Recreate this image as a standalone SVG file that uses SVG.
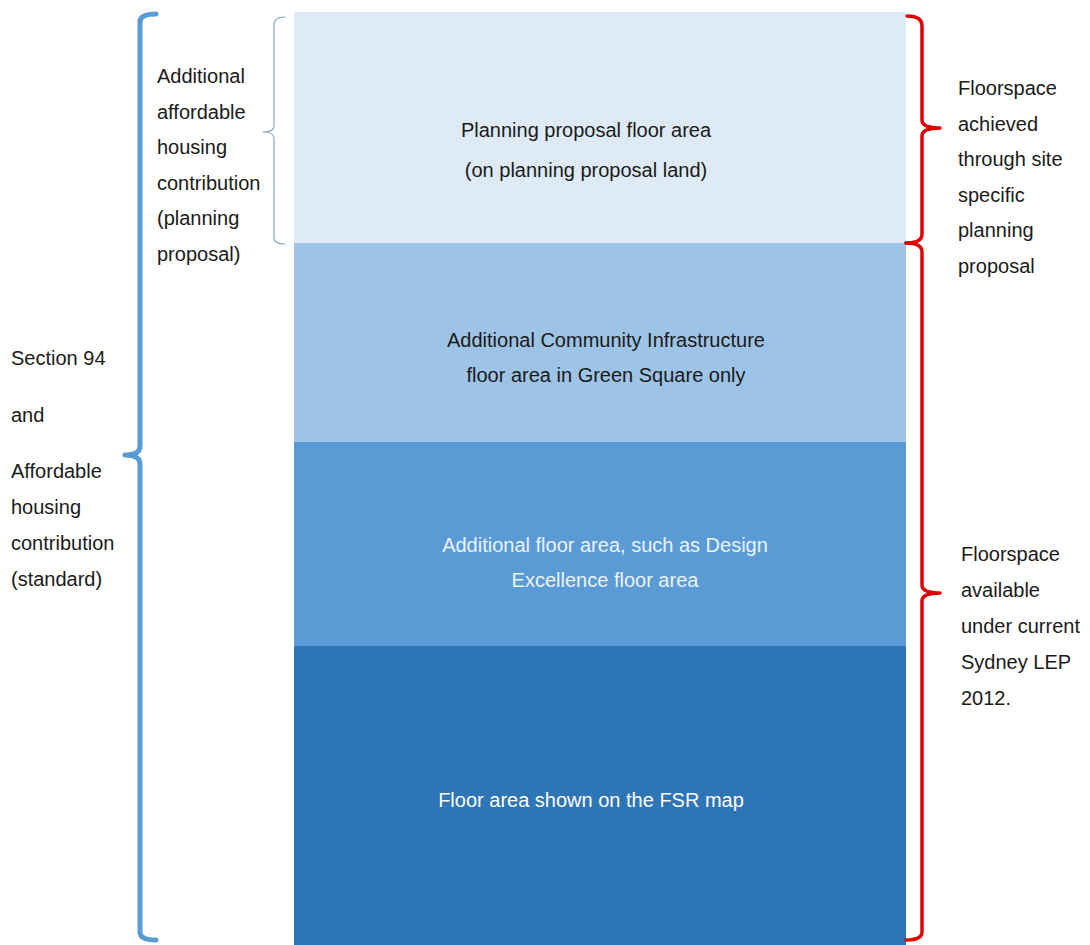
<svg xmlns="http://www.w3.org/2000/svg" width="1090" height="945" viewBox="0 0 1090 945">
<style>
text{font-family:"Liberation Sans",Arial,sans-serif;font-size:20px;fill:#1a1a1a}
.c{text-anchor:middle}
.w{fill:#ffffff}
.wl{fill:#eaf2fa}
.br{fill:none;stroke-linecap:round;stroke-linejoin:round}
</style>
<rect width="1090" height="945" fill="#ffffff"/>
<g id="band-planning-proposal">
<rect x="294" y="12" width="612" height="231" fill="#deeaf6"/>
<text class="c" x="586" y="137">Planning proposal floor area</text>
<text class="c" x="586" y="177">(on planning proposal land)</text>
</g>
<g id="band-community-infrastructure">
<rect x="294" y="243" width="612" height="199" fill="#9dc3e6"/>
<text class="c" x="606" y="347">Additional Community Infrastructure</text>
<text class="c" x="606" y="382">floor area in Green Square only</text>
</g>
<g id="band-design-excellence">
<rect x="294" y="442" width="612" height="204" fill="#5b9bd5"/>
<text class="c wl" x="605" y="552">Additional floor area, such as Design</text>
<text class="c wl" x="605" y="587">Excellence floor area</text>
</g>
<g id="band-fsr-map">
<rect x="294" y="646" width="612" height="299" fill="#2e75b6"/>
<text class="c w" x="591" y="807">Floor area shown on the FSR map</text>
</g>
<g id="connectors">
<path class="br" stroke="#5b9bd5" stroke-width="5" d="M156,14 Q140,14 140,22 L140,446 Q140,455 125,455 Q140,455 140,464 L140,932 Q140,940 156,940"/>
<path class="br" stroke="#e00000" stroke-width="3.5" d="M907,16 Q922,16 922,26 L922,120 Q922,128 940,128 Q922,128 922,136 L922,234 Q922,243 906,243"/>
<path class="br" stroke="#e00000" stroke-width="3.5" d="M906,243 Q922,243 922,252 L922,585 Q922,593 940,593 Q922,593 922,601 L922,932 Q922,940 906,940"/>
<path class="br" stroke="#8aa6c1" stroke-width="1.2" d="M285,17 Q274,17 274,25 L274,126 Q274,132 263,132 Q274,132 274,138 L274,238 Q274,244 285,244"/>
</g>
<g id="label-planning-proposal-contribution">
<text x="157" y="83">Additional</text>
<text x="157" y="118.5">affordable</text>
<text x="157" y="154">housing</text>
<text x="157" y="189.5">contribution</text>
<text x="157" y="225">(planning</text>
<text x="157" y="260.5">proposal)</text>
</g>
<g id="label-standard-contribution">
<text x="11" y="365">Section 94</text>
<text x="11" y="422">and</text>
<text x="11" y="478">Affordable</text>
<text x="11" y="514">housing</text>
<text x="11" y="550">contribution</text>
<text x="11" y="586">(standard)</text>
</g>
<g id="label-site-specific">
<text x="958" y="95">Floorspace</text>
<text x="958" y="130.5">achieved</text>
<text x="958" y="166">through site</text>
<text x="958" y="201.5">specific</text>
<text x="958" y="237">planning</text>
<text x="958" y="272.5">proposal</text>
</g>
<g id="label-current-lep">
<text x="961" y="561">Floorspace</text>
<text x="961" y="597">available</text>
<text x="961" y="633">under current</text>
<text x="961" y="669">Sydney LEP</text>
<text x="961" y="705">2012.</text>
</g>
</svg>
